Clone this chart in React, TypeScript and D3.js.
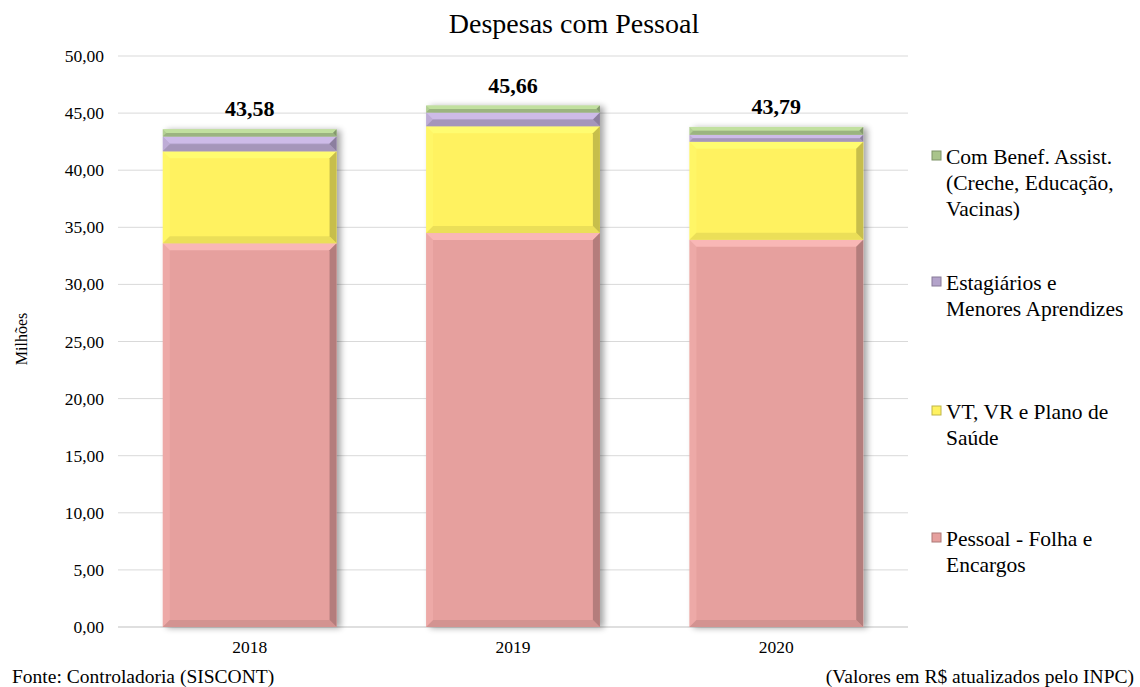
import React from "react";
import * as d3 from "d3";

const years = ["2018", "2019", "2020"];
const seriesNames = [
  "Pessoal - Folha e Encargos",
  "VT, VR e Plano de Saúde",
  "Estagiários e Menores Aprendizes",
  "Com Benef. Assist. (Creche, Educação, Vacinas)",
];
const pessoal = [33.6, 34.5, 33.9];
const vtvr = [8.05, 9.35, 8.6];
const estagiarios = [1.3, 1.2, 0.6];
const beneficios = [0.63, 0.61, 0.69];
const totals = ["43,58", "45,66", "43,79"];
const yTicks = [0, 5, 10, 15, 20, 25, 30, 35, 40, 45, 50];

const legendLines = [
  ["Com Benef. Assist.", "(Creche, Educação,", "Vacinas)"],
  ["Estagiários e", "Menores Aprendizes"],
  ["VT, VR e Plano de", "Saúde"],
  ["Pessoal - Folha e", "Encargos"],
];

const colors = ["#E6A09E", "#FFF261", "#B3A3CA", "#A9C48B"];
const ts = { fontFamily: '"Liberation Serif"' };

export default function App() {
  const W = 1140, H = 687;
  const left = 118, right = 908, top = 56, bottom = 627;
  const x = d3.scaleBand().domain(years).range([left, right]).paddingInner(0.34).paddingOuter(0.17);
  const y = d3.scaleLinear().domain([0, 50]).range([bottom, top]);
  const data = years.map((yr, i) => ({ yr, vals: [pessoal[i], vtvr[i], estagiarios[i], beneficios[i]] }));
  const stack = d3.stack<any>().keys(["0", "1", "2", "3"]).value((d: any, k: string) => d.vals[+k]);
  const stacked = stack(data as any);

  const bevel = (x0: number, y0: number, w: number, h: number, color: string, key: string) => {
    const b = Math.min(7, h / 2);
    const c = d3.color(color)!;
    const light = d3.color(color)!.brighter(0.5).formatHex();
    const dark = c.darker(0.9).formatHex();
    const mid = c.darker(0.4).formatHex();
    return (
      <g key={key}>
        <rect x={x0} y={y0} width={w} height={h} fill={color} />
        <polygon points={`${x0},${y0} ${x0 + w},${y0} ${x0 + w - b},${y0 + b} ${x0 + b},${y0 + b}`} fill={light} opacity={0.75} />
        <polygon points={`${x0},${y0} ${x0 + b},${y0 + b} ${x0 + b},${y0 + h - b} ${x0},${y0 + h}`} fill={light} opacity={0.3} />
        <polygon points={`${x0 + w},${y0} ${x0 + w},${y0 + h} ${x0 + w - b},${y0 + h - b} ${x0 + w - b},${y0 + b}`} fill={dark} opacity={0.8} />
        <polygon points={`${x0},${y0 + h} ${x0 + w},${y0 + h} ${x0 + w - b},${y0 + h - b} ${x0 + b},${y0 + h - b}`} fill={mid} opacity={0.6} />
      </g>
    );
  };

  const legendStarts = [157, 283, 412, 539];

  return (
    <svg width={W} height={H} style={{ position: "absolute", left: 0, top: 0 }}>
      <defs>
        <filter id="sh" x="-10%" y="-10%" width="130%" height="120%">
          <feGaussianBlur in="SourceAlpha" stdDeviation="3" />
          <feOffset dx="4" dy="1" result="o" />
          <feComponentTransfer><feFuncA type="linear" slope="0.35" /></feComponentTransfer>
          <feMerge><feMergeNode /><feMergeNode in="SourceGraphic" /></feMerge>
        </filter>
      </defs>
      <rect width={W} height={H} fill="#fff" />
      <text x={574} y={33} textAnchor="middle" fontSize={28} fill="#000" style={ts}>Despesas com Pessoal</text>
      {yTicks.map((t) => (
        <g key={t}>
          <line x1={left} x2={right} y1={y(t)} y2={y(t)} stroke={t === 0 ? "#bfbfbf" : "#d9d9d9"} strokeWidth={1} />
          <text x={104} y={y(t) + 6} textAnchor="end" fontSize={17.5} fill="#000" style={ts}>{d3.format(".2f")(t).replace(".", ",")}</text>
        </g>
      ))}
      <text transform={`translate(27,${339}) rotate(-90)`} textAnchor="middle" fontSize={16} fill="#000" style={ts}>Milhões</text>
      {data.map((d, i) => {
        const x0 = x(d.yr)!;
        const w = x.bandwidth();
        return (
          <g key={d.yr}>
            <g filter="url(#sh)">
              {stacked.map((s, k) => {
                const seg = s[i];
                const yt = y(seg[1]);
                const yb = y(seg[0]);
                return bevel(x0, yt, w, yb - yt, colors[k], `${d.yr}-${k}`);
              })}
            </g>
            <text x={x0 + w / 2} y={y(stacked[3][i][1]) - 13} textAnchor="middle" fontSize={22} fontWeight="bold" fill="#000" style={ts}>{totals[i]}</text>
            <text x={x0 + w / 2} y={653} textAnchor="middle" fontSize={17.5} fill="#000" style={ts}>{d.yr}</text>
          </g>
        );
      })}
      {legendLines.map((lines, li) => {
        const k = 3 - li;
        const y0 = legendStarts[li];
        return (
          <g key={li}>
            <rect x={932} y={y0 - 6} width={9} height={9} fill={colors[k]} stroke={d3.color(colors[k])!.darker(0.8).formatHex()} strokeWidth={1} />
            {lines.map((ln, j) => (
              <text key={j} x={946} y={y0 + 7 + j * 26} fontSize={21.5} fill="#000" style={ts}>{ln}</text>
            ))}
          </g>
        );
      })}
      <text x={12} y={683} fontSize={19.5} fill="#000" style={ts}>Fonte: Controladoria (SISCONT)</text>
      <text x={1134} y={683} textAnchor="end" fontSize={19.5} fill="#000" style={ts}>(Valores em R$ atualizados pelo INPC)</text>
    </svg>
  );
}
